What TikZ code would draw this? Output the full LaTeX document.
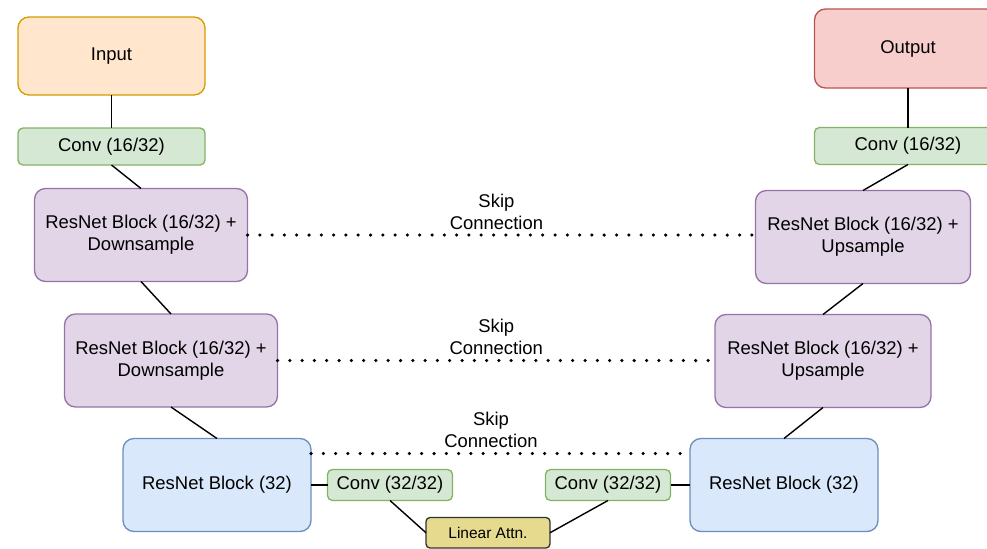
\documentclass[tikz,border=0pt]{standalone}
\usepackage{fontspec}
\setmainfont{Liberation Sans}
\usepackage{xcolor}
\usetikzlibrary{positioning}

\definecolor{inFill}{HTML}{FFE6CC}
\definecolor{inLine}{HTML}{D79B00}
\definecolor{outFill}{HTML}{F8CECC}
\definecolor{outLine}{HTML}{B85450}
\definecolor{convFill}{HTML}{D5E8D4}
\definecolor{convLine}{HTML}{82B366}
\definecolor{resFill}{HTML}{E1D5E7}
\definecolor{resLine}{HTML}{9673A6}
\definecolor{midFill}{HTML}{DAE8FC}
\definecolor{midLine}{HTML}{6C8EBF}
\definecolor{attnFill}{HTML}{E6DA8F}
\definecolor{attnLine}{HTML}{333333}

\begin{document}
\begin{tikzpicture}[
    basic/.style={draw,line width=0.75pt,align=center,inner sep=0pt,outer sep=0pt,font=\fontsize{10.5}{12.5}\selectfont},
    inbox/.style={basic,rounded corners=0.22cm,fill=inFill,draw=inLine,minimum width=3.74cm,minimum height=1.56cm},
    outbox/.style={basic,rounded corners=0.22cm,fill=outFill,draw=outLine,minimum width=3.74cm,minimum height=1.58cm},
    convbox/.style={basic,rounded corners=0.1cm,fill=convFill,draw=convLine,minimum width=3.74cm,minimum height=0.74cm},
    smallconv/.style={convbox,minimum width=2.5cm,minimum height=0.62cm},
    resbox/.style={basic,rounded corners=0.22cm,fill=resFill,draw=resLine,minimum width=4.26cm,minimum height=1.86cm},
    midbox/.style={basic,rounded corners=0.22cm,fill=midFill,draw=midLine,minimum width=3.76cm,minimum height=1.86cm},
    attnbox/.style={basic,rounded corners=0.08cm,fill=attnFill,draw=attnLine,minimum width=2.48cm,minimum height=0.61cm,font=\fontsize{8.8}{10.5}\selectfont},
    link/.style={line width=0.8pt},
    skipline/.style={line width=2pt,line cap=round,dash pattern=on 0pt off 7pt},
    skiptext/.style={anchor=south,align=center,inner sep=0pt,yshift=0.08cm,font=\fontsize{10.5}{12.5}\selectfont},
]
    \useasboundingbox (0,0) rectangle (19.74,-10.96);

    % encoder
    \node[inbox] (input) at (2.23,-1.12) {Input};
    \node[convbox,below=0.66cm of input] (convL) {Conv (16/32)};
    \node[resbox,below=0.47cm of convL,xshift=0.59cm] (resL1) {ResNet Block (16/32) +\\Downsample};
    \node[resbox,below=0.65cm of resL1,xshift=0.6cm] (resL2) {ResNet Block (16/32) +\\Downsample};
    \node[midbox,below=0.63cm of resL2,xshift=0.92cm] (resL3) {ResNet Block (32)};

    % bottleneck
    \node[smallconv,right=0.33cm of resL3] (convLA) {Conv (32/32)};
    \node[attnbox,below=0.34cm of convLA,xshift=1.96cm] (attn) {Linear Attn.};
    \node[smallconv,right=1.86cm of convLA] (convRA) {Conv (32/32)};

    % decoder
    \node[midbox,right=0.39cm of convRA] (resR3) {ResNet Block (32)};
    \node[resbox,minimum width=4.32cm,above=0.62cm of resR3,xshift=0.78cm] (resR2) {ResNet Block (16/32) +\\Upsample};
    \node[resbox,minimum width=4.3cm,above=0.62cm of resR2,xshift=0.8cm] (resR1) {ResNet Block (16/32) +\\Upsample};
    \node[convbox,above=0.52cm of resR1,xshift=0.9cm] (convR) {Conv (16/32)};
    \node[outbox,above=0.79cm of convR] (output) {Output};

    \draw[link] (input) -- (convL);
    \draw[link] (convL.south) -- (resL1.north);
    \draw[link] (resL1.south) -- (resL2.north);
    \draw[link] (resL2.south) -- (resL3.north);
    \draw[link] (resL3) -- (convLA);
    \draw[link] (convLA.south) -- (attn.west);
    \draw[link] (attn.east) -- (convRA.south);
    \draw[link] (convRA) -- (resR3);
    \draw[link] (resR3.north) -- (resR2.south);
    \draw[link] (resR2.north) -- (resR1.south);
    \draw[link] (resR1.north) -- (convR.south);
    \draw[link] (convR) -- (output);

    % skip connections
    \draw[skipline] (resL1.east) -- node[skiptext,pos=.49] (skip1) {Skip\\Connection} (resL1.east -| resR1.west);
    \draw[skipline] (resL2.east) -- node[skiptext,pos=.5] (skip2) {Skip\\Connection} (resL2.east -| resR2.west);
    \coordinate (skip3a) at ([yshift=0.63cm]resL3.east);
    \draw[skipline] (skip3a) -- node[skiptext,pos=.475] (skip3) {Skip\\Connection} (skip3a -| resR3.west);
\end{tikzpicture}
\end{document}
